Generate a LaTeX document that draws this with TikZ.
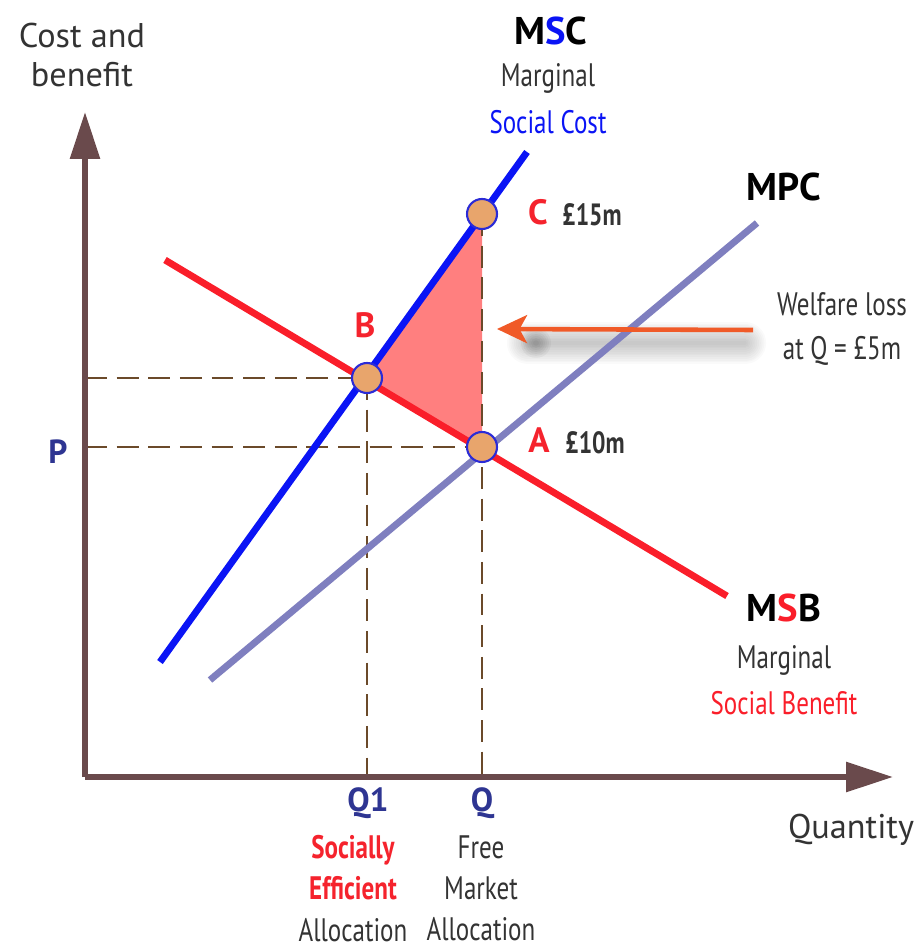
\documentclass[tikz,border=0pt]{standalone}
\usepackage{fontspec}
\setmainfont{PT Sans}
\newfontfamily\nf{PT Sans}[FakeStretch=0.77]
\usetikzlibrary{arrows.meta}
\definecolor{axisc}{HTML}{6A4A4C}
\definecolor{dashc}{HTML}{6B4A2A}
\definecolor{mscc}{HTML}{0A14F5}
\definecolor{mpcc}{HTML}{7F7FBF}
\definecolor{msbc}{HTML}{FA1E2A}
\definecolor{trif}{HTML}{FF7F7F}
\definecolor{ptf}{HTML}{E8A56C}
\definecolor{ptd}{HTML}{2B2BD6}
\definecolor{navy}{HTML}{2E3592}
\definecolor{txt}{HTML}{333333}
\definecolor{arrc}{HTML}{F05A28}
\definecolor{redt}{HTML}{F5232D}
\begin{document}
\begin{tikzpicture}[x=0.02cm,y=-0.02cm,
  axis/.style={draw=axisc,line width=3.4pt,-{Triangle[length=0.94cm,width=0.58cm]}},
  dsh/.style={draw=dashc,line width=1.5pt,dash pattern=on 12.5pt off 5.5pt},
  curve/.style={line width=3.9pt},
  pt/.style={circle,fill=ptf,draw=ptd,line width=1.2pt,minimum size=0.6cm,inner sep=0pt},
  lbl/.style={inner sep=0pt,align=center,text=txt},
  big/.style={lbl,font=\fontsize{22}{26}\selectfont\bfseries,text=black},
  cond/.style={lbl,font=\nf\fontsize{18.5}{24.5}\selectfont},
  condb/.style={lbl,font=\nf\fontsize{17.5}{24}\selectfont\bfseries},
  letter/.style={lbl,font=\fontsize{20}{24}\selectfont\bfseries,text=redt},
  axl/.style={lbl,font=\fontsize{19.5}{24}\selectfont,text=txt},
  qlab/.style={lbl,font=\fontsize{19}{24}\selectfont\bfseries,text=navy}]
\useasboundingbox (0,0) rectangle (923,952);
% axes
\coordinate (O) at (85,777);
\coordinate (ytip) at (85,112);
\coordinate (xtip) at (893,777);
% points
\coordinate (pB) at (367,378);
\coordinate (pA) at (482,447);
\coordinate (pC) at (482,214);
% curve ends
\coordinate (msc1) at (160,662);
\coordinate (msc2) at (527,152);
\coordinate (mpc1) at (210,680);
\coordinate (mpc2) at (757,223);
\coordinate (msb1) at (165,260);
\coordinate (msb2) at (727,596);
% triangle
\fill[trif] (pB) -- (pC) -- (pA) -- cycle;
% dashed guides
\draw[dsh] (O |- pB) -- (pB);
\draw[dsh] (O |- pA) -- (pA);
\draw[dsh] (pB) -- (pB |- O);
\draw[dsh] (pC) -- (pC |- O);
% axes
\draw[axis] (O) -- (ytip);
\draw[axis] (O) -- (xtip);
% shadow of welfare arrow
\coordinate (s1) at (745,343);
\coordinate (s2) at (528,343);
\foreach \w in {1,2,...,12}{
  \draw[line width=2*\w pt,black,opacity=0.02,line cap=round] (s1) -- (s2);}
\foreach \r in {3,5,...,15}{
  \fill[black,opacity=0.04] (s2) ++(8,0) circle (\r);}
% curves
\draw[curve,mpcc] (mpc1) -- (mpc2);
\draw[curve,msbc] (msb1) -- (msb2);
\draw[curve,mscc] (msc1) -- (msc2);
% welfare arrow
\coordinate (w1) at (753,330);
\coordinate (w2) at (497,329);
\draw[arrc,line width=2.6pt,-{Stealth[length=0.6cm,width=0.56cm,inset=0.15cm]}] (w1) -- (w2);
% points
\node[pt] (B) at (pB) {};
\node[pt] (A) at (pA) {};
\node[pt] (C) at (pC) {};
% labels
\node[axl] (yl) at (82,55) {Cost and\\[-2pt]benefit};
\node[axl] (xl) at (851,830) {Quantity};
\node[big] (mscl) at (551,31) {M\textcolor{mscc}{S}C};
\node[cond] (msc3) at (548,78) {Marginal};
\node[cond,text=mscc] (msc4) at (548,122) {Social Cost};
\node[big] (mpcl) at (784,187) {MPC};
\node[big] (msbl) at (784,608) {M\textcolor{msbc}{S}B};
\node[cond] (msb3) at (784,660) {Marginal};
\node[cond,text=msbc] (msb4) at (784,703) {Social Benefit};
\node[letter] (Cl) at (538,212) {C};
\node[condb] (Cv) at (592,215) {£15m};
\node[letter] (Bl) at (365,325) {B};
\node[letter] (Al) at (539,440) {A};
\node[condb] (Av) at (595,443) {£10m};
\node[cond] (wl) at (842,329) {Welfare loss\\at Q = £5m};
\node[qlab] (Pl) at (58,452) {P};
\node[qlab] (Q1l) at (368,803) {Q1};
\node[qlab] (Ql) at (482,803) {Q};
\node[cond,font=\nf\fontsize{18.5}{23.5}\selectfont,anchor=north] (q1t) at (353,835) {\textcolor{redt}{\bfseries Socially}\\\textcolor{redt}{\bfseries Efficient}\\Allocation};
\node[cond,font=\nf\fontsize{18.5}{23.5}\selectfont,anchor=north] (qt) at (481,835) {Free\\Market\\Allocation};
\end{tikzpicture}
\end{document}
